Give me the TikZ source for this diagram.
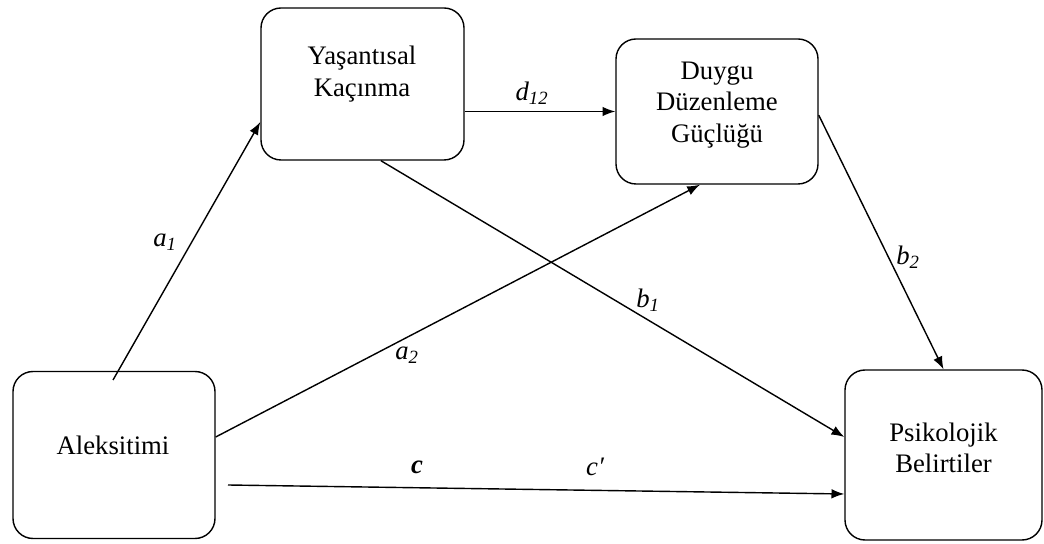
\documentclass[tikz,border=0pt]{standalone}
\usepackage{fontspec}
\setmainfont{Liberation Serif}
\usetikzlibrary{arrows.meta}
\begin{document}
\begin{tikzpicture}[>={Latex[length=3.2mm,width=2.4mm]},line width=1pt]
\tikzset{box/.style={draw,rounded corners=0.5cm},
  txt/.style={align=center,font=\rmfamily\fontsize{19}{22.5}\selectfont},
  lab/.style={font=\rmfamily\fontsize{19}{22.5}\selectfont\itshape}}
\useasboundingbox (0,0) rectangle (26.1,13.6);
\coordinate (A) at (2.85,2.225);
\coordinate (Y) at (9.0625,11.5);
\coordinate (D) at (17.925,10.8125);
\coordinate (P) at (23.5875,2.225);
\node[box,minimum width=5.05cm,minimum height=4.175cm] (ale) at (A) {};
\node[box,minimum width=5.075cm,minimum height=3.8cm] (yas) at (Y) {};
\node[box,minimum width=5.05cm,minimum height=3.625cm] (duy) at (D) {};
\node[box,minimum width=4.925cm,minimum height=4.25cm] (psi) at (P) {};
\node[txt] (aleT) at (2.825,2.475) {Aleksitimi};
\node[txt] (yasT) at (9.05,11.75) {Yaşantısal\\Kaçınma};
\node[txt] (duyT) at (17.925,10.975) {Duygu\\Düzenleme\\Güçlüğü};
\node[txt] (psiT) at (23.5875,2.4) {Psikolojik\\Belirtiler};
\coordinate (a1s) at (2.825,4.1);
\coordinate (cs) at (5.7,1.475);
\draw[->] (a1s) -- ([yshift=-0.95cm]yas.west);
\draw[->] (yas.east |- duy.west) -- (duy.west);
\draw[->] ([yshift=0.45cm]ale.east) -- ([xshift=-0.425cm]duy.south);
\draw[->] ([xshift=0.46cm]yas.south) -- ([yshift=0.45cm]psi.west);
\draw[->] ([yshift=-0.09cm]duy.east) -- (psi.north);
\draw[->] (cs) -- ([yshift=-0.975cm]psi.west);
\node[lab] (la1) at (4.125,7.55) {a\textsubscript{1}};
\node[lab] (ld12) at (13.3,11.275) {d\textsubscript{12}};
\node[lab] (la2) at (10.175,4.725) {a\textsubscript{2}};
\node[lab] (lb1) at (16.2,6.1) {b\textsubscript{1}};
\node[lab] (lb2) at (22.7,7.175) {b\textsubscript{2}};
\node[lab] (lc) at (10.425,1.925) {\textbf{c}};
\node[lab] (lcp) at (14.875,1.925) {c\char"2032};
\end{tikzpicture}
\end{document}
